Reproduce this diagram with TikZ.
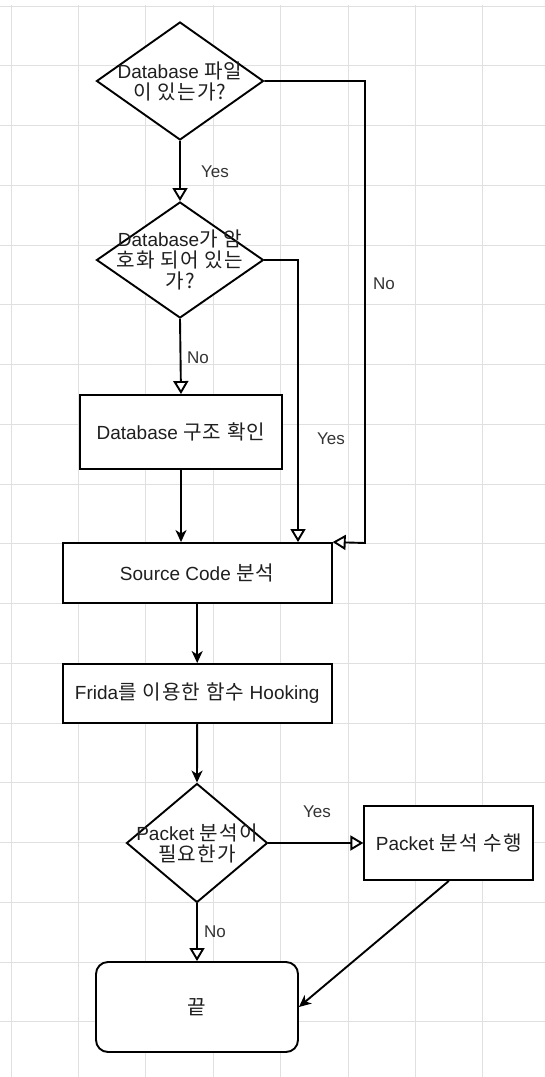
\documentclass[tikz,border=0pt]{standalone}
\usepackage{fontspec}
\setmainfont{Liberation Sans}
\newfontfamily\kr[Scale=1.06,LetterSpace=6]{Noto Sans CJK KR}
\usetikzlibrary{shapes.geometric,arrows.meta,calc}

\begin{document}
\begin{tikzpicture}[x=1pt,y=-1pt,
  every node/.style={font=\fontsize{19}{21}\selectfont, text=black!88},
  box/.style={draw, line width=1.9pt, fill=white, inner sep=0pt},
  dia/.style={draw, diamond, line width=1.9pt, fill=white, inner sep=0pt},
  txt/.style={align=center, inner sep=0pt},
  lbl/.style={font=\fontsize{17}{19}\selectfont, inner sep=0pt, text=black!80},
  flow/.style={line width=1.9pt, -{Stealth[length=12pt,width=11pt,inset=3.5pt]}},
  opn/.style={line width=1.9pt, -{Triangle[open,length=13pt,width=15pt,fill=white]}},
  gridln/.style={draw=black!12, line width=0.9pt}]

\useasboundingbox (0,0) rectangle (545,1077);

% background grid
\foreach \k in {0,...,7} \draw[gridln] ({11+67.4*\k},5) -- ({11+67.4*\k},1077);
\foreach \k in {0,...,17} \draw[gridln] (0,{6+59.75*\k}) -- (545,{6+59.75*\k});

% nodes
\node[dia, minimum width=167pt, minimum height=118pt] (d1) at (180,81) {};
\node[txt] (d1t) at (d1) {Database {\kr 파일}\\{\kr 이 있는가?}};

\node[dia, minimum width=167pt, minimum height=116pt] (d2) at (180,260) {};
\node[txt] (d2t) at (d2) {Database{\kr 가 암}\\{\kr 호화 되어 있는}\\{\kr 가?}};

\node[box, minimum width=202pt, minimum height=74pt] (db) at (181,432) {Database {\kr 구조 확인}};
\node[box, minimum width=269pt, minimum height=60pt] (src) at (197.2,573) {Source Code {\kr 분석}};
\node[box, minimum width=269pt, minimum height=59pt] (fr) at (197.2,693.5) {Frida{\kr 를 이용한 함수} Hooking};

\node[dia, minimum width=141pt, minimum height=119pt] (d3) at (197,843) {};
\node[txt] (d3t) at (d3) {Packet {\kr 분석이}\\{\kr 필요한가}};

\node[box, minimum width=169pt, minimum height=74pt] (pk) at (448.8,843) {Packet {\kr 분석 수행}};
\node[box, rounded corners=12pt, minimum width=202pt, minimum height=90pt] (fin) at (197,1007) {{\kr 끝}};

% bend points
\coordinate (c1) at (365,543);
\coordinate (c2) at (298,260);

% connectors
\draw[opn] (d1.south) -- (d2.north);
\node[lbl] (l1) at (215,172) {Yes};

\draw[opn] (d1.east) -| (c1) -- (src.north east);
\node[lbl] (l2) at (384,284) {No};

\draw[opn] (d2.east) -- (c2) -- (c2 |- src.north);
\node[lbl] (l3) at (331,439) {Yes};

\draw[opn] (d2.south) -- (db.north);
\node[lbl] (l4) at (198,358) {No};

\draw[flow] (db.south) -- (db.south |- src.north);
\draw[flow] (src.south) -- (fr.north);
\draw[flow] (fr.south) -- (d3.north);

\draw[opn] (d3.east) -- (pk.west);
\node[lbl] (l5) at (317,812) {Yes};

\draw[opn] (d3.south) -- (fin.north);
\node[lbl] (l6) at (215,932) {No};

\draw[flow] (pk.south) -- (fin.east);
\end{tikzpicture}
\end{document}
